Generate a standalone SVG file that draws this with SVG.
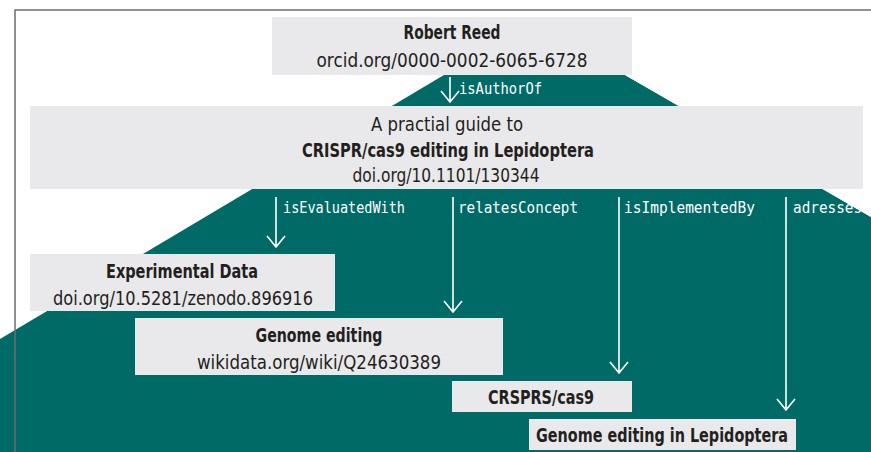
<svg xmlns="http://www.w3.org/2000/svg" width="871" height="452" viewBox="0 0 871 452">
  <style>
    .box { fill: #e9e9eb; }
    .t { font-family: "DejaVu Sans", "Liberation Sans", sans-serif; font-stretch: condensed; font-size: 19px; fill: #231f20; text-anchor: middle; }
    .b { font-weight: bold; }
    .lbl { font-family: "DejaVu Sans Mono", "Liberation Mono", monospace; font-size: 16px; fill: #ffffff; }
    .edge { stroke: #ffffff; stroke-width: 1.6; fill: none; }
    .frame { stroke: #6e6e6e; stroke-width: 1.5; fill: none; }
  </style>

  <rect width="871" height="452" fill="#ffffff"/>

  <!-- teal backdrop -->
  <polygon points="444,75 625,75 871,217 871,452 0,452 0,339" fill="#006a67"/>

  <!-- connectors: shaft plus open chevron head -->
  <g id="connectors">
    <path class="edge" d="M450 77 V102 M441 91 L450 102 L459 91"/>
    <path class="edge" d="M276 197 V247 M267 236 L276 247 L285 236"/>
    <path class="edge" d="M453 197 V312 M444 301 L453 312 L462 301"/>
    <path class="edge" d="M619 197 V373 M610 362 L619 373 L628 362"/>
    <path class="edge" d="M786 197 V410 M777 399 L786 410 L795 399"/>
    <text class="lbl" x="459" y="94" textLength="83" lengthAdjust="spacingAndGlyphs">isAuthorOf</text>
    <text class="lbl" x="283" y="213" textLength="122" lengthAdjust="spacingAndGlyphs">isEvaluatedWith</text>
    <text class="lbl" x="458" y="213" textLength="120" lengthAdjust="spacingAndGlyphs">relatesConcept</text>
    <text class="lbl" x="624" y="213" textLength="131" lengthAdjust="spacingAndGlyphs">isImplementedBy</text>
    <text class="lbl" x="793" y="213" textLength="69" lengthAdjust="spacingAndGlyphs">adresses</text>
  </g>

  <!-- white corner above the backdrop's right slope -->
  <polygon points="625,75 871,75 871,217" fill="#ffffff"/>

  <g id="author">
    <rect class="box" x="272" y="17" width="360" height="58"/>
    <text class="t b" x="452" y="39" textLength="97" lengthAdjust="spacingAndGlyphs">Robert Reed</text>
    <text class="t" x="452" y="67" textLength="271" lengthAdjust="spacingAndGlyphs">orcid.org/0000-0002-6065-6728</text>
  </g>

  <g id="article">
    <rect class="box" x="30" y="106" width="833" height="83"/>
    <text class="t" x="447" y="131" textLength="152" lengthAdjust="spacingAndGlyphs">A practial guide to</text>
    <text class="t b" x="448" y="157" textLength="292" lengthAdjust="spacingAndGlyphs">CRISPR/cas9 editing in Lepidoptera</text>
    <text class="t" x="446" y="182" textLength="187" lengthAdjust="spacingAndGlyphs">doi.org/10.1101/130344</text>
  </g>

  <g id="data">
    <rect class="box" x="30" y="254" width="305" height="57"/>
    <text class="t b" x="182" y="278" textLength="152" lengthAdjust="spacingAndGlyphs">Experimental Data</text>
    <text class="t" x="183" y="305" textLength="260" lengthAdjust="spacingAndGlyphs">doi.org/10.5281/zenodo.896916</text>
  </g>

  <g id="concept">
    <rect class="box" x="135" y="318" width="368" height="57"/>
    <text class="t b" x="319" y="342" textLength="127" lengthAdjust="spacingAndGlyphs">Genome editing</text>
    <text class="t" x="319" y="369" textLength="244" lengthAdjust="spacingAndGlyphs">wikidata.org/wiki/Q24630389</text>
  </g>

  <g id="method">
    <rect class="box" x="452" y="381" width="180" height="31"/>
    <text class="t b" x="541" y="404" textLength="106" lengthAdjust="spacingAndGlyphs">CRSPRS/cas9</text>
  </g>

  <g id="topic">
    <rect class="box" x="529" y="419" width="267" height="31"/>
    <text class="t b" x="662" y="442" textLength="252" lengthAdjust="spacingAndGlyphs">Genome editing in Lepidoptera</text>
  </g>

  <!-- page frame -->
  <path class="frame" d="M871 10 H15 V452"/>
</svg>
